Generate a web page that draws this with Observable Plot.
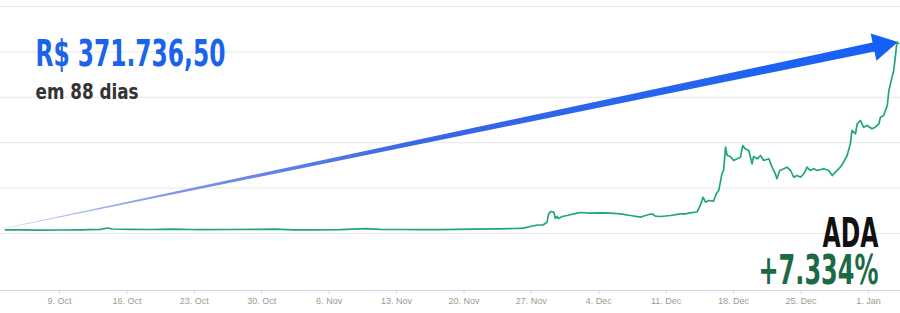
<!DOCTYPE html>
<html><head><meta charset="utf-8">
<script src="https://cdn.jsdelivr.net/npm/d3@7"></script>
<script src="https://cdn.jsdelivr.net/npm/@observablehq/plot@0.6"></script>
<style>
html,body{margin:0;padding:0;background:#fff;}
#chart{width:900px;height:313px;overflow:hidden;}
</style></head><body><div id="chart"></div>
<script>
const dates = [
"2017-10-03T09:00Z","2017-10-04T23:00Z","2017-10-07T01:00Z","2017-10-09T02:00Z","2017-10-11T04:00Z",
"2017-10-13T06:00Z","2017-10-14T00:00Z","2017-10-14T12:00Z","2017-10-16T09:00Z","2017-10-18T11:00Z",
"2017-10-20T20:00Z","2017-10-22T14:00Z","2017-10-23T15:00Z","2017-10-26T18:00Z","2017-10-29T21:00Z",
"2017-10-31T10:00Z","2017-11-02T07:00Z","2017-11-04T01:00Z","2017-11-07T04:00Z","2017-11-09T19:00Z",
"2017-11-11T08:00Z","2017-11-13T10:00Z","2017-11-15T12:00Z","2017-11-17T13:00Z","2017-11-21T00:00Z",
"2017-11-23T19:00Z","2017-11-25T08:00Z","2017-11-26T04:00Z","2017-11-26T22:00Z","2017-11-27T15:00Z",
"2017-11-28T06:00Z","2017-11-28T15:00Z","2017-11-28T19:00Z","2017-11-29T01:00Z","2017-11-29T08:00Z",
"2017-11-29T12:00Z","2017-11-29T16:00Z","2017-11-29T20:00Z","2017-11-30T05:00Z","2017-11-30T17:00Z",
"2017-12-01T10:00Z","2017-12-02T02:00Z","2017-12-03T03:00Z","2017-12-04T04:00Z","2017-12-05T05:00Z",
"2017-12-06T06:00Z","2017-12-07T07:00Z","2017-12-08T08:00Z","2017-12-08T20:00Z","2017-12-09T13:00Z",
"2017-12-09T21:00Z","2017-12-10T10:00Z","2017-12-11T11:00Z","2017-12-12T12:00Z","2017-12-13T00:00Z",
"2017-12-13T12:00Z","2017-12-14T05:00Z","2017-12-14T13:00Z","2017-12-14T20:00Z","2017-12-15T02:00Z",
"2017-12-15T10:00Z","2017-12-15T22:00Z","2017-12-16T05:00Z","2017-12-16T11:00Z","2017-12-16T19:00Z",
"2017-12-16T23:00Z","2017-12-17T04:00Z","2017-12-17T08:00Z","2017-12-17T16:00Z","2017-12-18T00:00Z",
"2017-12-18T09:00Z","2017-12-18T17:00Z","2017-12-18T23:00Z","2017-12-19T05:00Z","2017-12-19T14:00Z",
"2017-12-19T22:00Z","2017-12-20T02:00Z","2017-12-20T11:00Z","2017-12-20T19:00Z","2017-12-21T03:00Z",
"2017-12-21T16:00Z","2017-12-22T00:00Z","2017-12-22T08:00Z","2017-12-22T12:00Z","2017-12-22T19:00Z",
"2017-12-23T05:00Z","2017-12-23T13:00Z","2017-12-23T22:00Z","2017-12-24T06:00Z","2017-12-24T14:00Z",
"2017-12-24T23:00Z","2017-12-25T07:00Z","2017-12-25T15:00Z","2017-12-25T23:00Z","2017-12-26T08:00Z",
"2017-12-26T16:00Z","2017-12-27T09:00Z","2017-12-27T21:00Z","2017-12-28T06:00Z","2017-12-28T14:00Z",
"2017-12-29T02:00Z","2017-12-29T10:00Z","2017-12-29T19:00Z","2017-12-30T03:00Z","2017-12-30T07:00Z",
"2017-12-30T16:00Z","2017-12-30T20:00Z","2017-12-31T04:00Z","2017-12-31T12:00Z","2017-12-31T21:00Z",
"2018-01-01T09:00Z","2018-01-01T17:00Z","2018-01-02T02:00Z","2018-01-02T06:00Z","2018-01-02T14:00Z",
"2018-01-02T23:00Z","2018-01-03T03:00Z","2018-01-03T11:00Z","2018-01-03T15:00Z","2018-01-03T19:00Z",
"2018-01-03T23:00Z","2018-01-04T03:00Z"
];
const prices = [
0.0204,0.0204,0.0187,0.0193,0.0204,
0.0231,0.0303,0.0248,0.0231,0.0220,
0.0242,0.0220,0.0215,0.0220,0.0231,
0.0237,0.0198,0.0204,0.0215,0.0264,
0.0231,0.0220,0.0215,0.0215,0.0242,
0.0259,0.0275,0.0292,0.0385,0.0468,
0.0479,0.0622,0.1085,0.1212,0.1173,
0.0826,0.0936,0.0826,0.0936,0.0991,
0.1085,0.1156,0.1118,0.1140,0.1118,
0.1085,0.0991,0.0898,0.0991,0.1085,
0.0953,0.0936,0.0991,0.1085,0.1085,
0.1140,0.1184,0.1542,0.1999,0.1724,
0.1817,0.1779,0.2186,0.2368,0.3288,
0.3469,0.4753,0.4295,0.4240,0.4020,
0.4114,0.4202,0.4846,0.4664,0.4571,
0.3838,0.4240,0.4114,0.4295,0.4020,
0.4114,0.3651,0.3288,0.3012,0.3469,
0.3563,0.3651,0.3469,0.3100,0.3194,
0.3100,0.3288,0.3651,0.3469,0.3563,
0.3469,0.3563,0.3469,0.3194,0.3376,
0.3651,0.3927,0.4295,0.4940,0.5672,
0.5490,0.6041,0.6223,0.5854,0.5948,
0.5766,0.5854,0.6041,0.6405,0.6498,
0.7049,0.7875,0.8608,0.8976,0.9709,
1.0535,1.0463
];
const tickDates = ["2017-10-09","2017-10-16","2017-10-23","2017-10-30","2017-11-06","2017-11-13","2017-11-20","2017-11-27","2017-12-04","2017-12-11","2017-12-18","2017-12-25","2018-01-01"];
const xDomain = ["2017-10-02T21:00Z", "2018-01-04T08:00Z"];
const yDomain = [-0.3139, 1.25];
const gridValues = [0, 0.25, 0.5, 0.75, 1, 1.25];
const headline = "R$ 371.736,50";
const subline = "em 88 dias";
const coin = "ADA";
const change = "+7.334%";

const data = dates.map((d, i) => ({date: new Date(d), value: prices[i]}));
const ticks = tickDates.map(d => new Date(d + "T00:00Z"));

function arrowMark(index, scales) {
  const sx = scales.x, sy = scales.y;
  const first = data[0], last = data[data.length - 1];
  const x0 = sx(first.date), y0 = sy(first.value) - 1;
  const x1 = sx(last.date), y1 = sy(last.value) - 1;
  const dx = x1 - x0, dy = y1 - y0, L = Math.hypot(dx, dy);
  const ux = dx / L, uy = dy / L, nx = -uy, ny = ux;
  const headLen = 25, headHalf = 14, w0 = 0.3, w1 = 4.6;
  const bx = x1 - ux * headLen, by = y1 - uy * headLen;
  const pts = [
    [x0 + nx * w0, y0 + ny * w0],
    [bx + nx * w1, by + ny * w1],
    [bx + nx * headHalf, by + ny * headHalf],
    [x1, y1],
    [bx - nx * headHalf, by - ny * headHalf],
    [bx - nx * w1, by - ny * w1],
    [x0 - nx * w0, y0 - ny * w0]
  ];
  const ns = "http://www.w3.org/2000/svg";
  const g = document.createElementNS(ns, "g");
  const defs = document.createElementNS(ns, "defs");
  const grad = document.createElementNS(ns, "linearGradient");
  grad.setAttribute("id", "arrowGrad");
  grad.setAttribute("gradientUnits", "userSpaceOnUse");
  grad.setAttribute("x1", x0); grad.setAttribute("y1", y0);
  grad.setAttribute("x2", x1); grad.setAttribute("y2", y1);
  [[0, "#c8d0f4"], [0.2, "#7d95e6"], [0.45, "#3a68e6"], [1, "#1460f5"]].forEach(([o, c]) => {
    const s = document.createElementNS(ns, "stop");
    s.setAttribute("offset", o); s.setAttribute("stop-color", c);
    grad.appendChild(s);
  });
  defs.appendChild(grad);
  g.appendChild(defs);
  const poly = document.createElementNS(ns, "polygon");
  poly.setAttribute("points", pts.map(p => p.join(",")).join(" "));
  poly.setAttribute("fill", "url(#arrowGrad)");
  g.appendChild(poly);
  return g;
}

const bigFont = "'Liberation Sans Narrow', 'DejaVu Sans Condensed', 'Roboto', sans-serif";

const chart = Plot.plot({
  width: 900,
  height: 313,
  marginLeft: 0,
  marginRight: 0,
  marginTop: 6,
  marginBottom: 23,
  style: {background: "#fff", fontFamily: "'Liberation Sans', sans-serif"},
  x: {type: "utc", domain: xDomain.map(d => new Date(d))},
  y: {domain: yDomain, axis: null},
  marks: [
    Plot.gridY(gridValues, {stroke: "#e6e6e6", strokeOpacity: 1}),
    Plot.ruleY([yDomain[0]], {stroke: "#ccd6eb"}),
    Plot.axisX(ticks, {tickSize: 4, tickPadding: 3, stroke: "#ccd6eb", fill: "#999", fontSize: 9, tickFormat: d3.utcFormat("%-d. %b"), label: null}),
    arrowMark,
    Plot.line(data, {x: "date", y: "value", stroke: "#1fa67b", strokeWidth: 1.7}),
    Plot.text([headline], {text: d => d, frameAnchor: "top-left", dx: 35, dy: 59, lineAnchor: "bottom", textAnchor: "start", fontSize: 38, fontWeight: "bold", fill: "#1b63ea", fontFamily: bigFont}),
    Plot.text([subline], {text: d => d, frameAnchor: "top-left", dx: 35, dy: 92, lineAnchor: "bottom", textAnchor: "start", fontSize: 21, fontWeight: "bold", fill: "#333", fontFamily: bigFont}),
    Plot.text([coin], {text: d => d, frameAnchor: "top-right", dx: -22, dy: 240, lineAnchor: "bottom", textAnchor: "end", fontSize: 41, fontWeight: "bold", fill: "#111", fontFamily: bigFont}),
    Plot.text([change], {text: d => d, frameAnchor: "top-right", dx: -22, dy: 277, lineAnchor: "bottom", textAnchor: "end", fontSize: 41, fontWeight: "bold", fill: "#1c6a45", fontFamily: bigFont})
  ]
});
document.getElementById("chart").appendChild(chart);

// condense the big annotation texts horizontally (styling) so they match the reference's narrow face
const widths = {[headline]: 190, [subline]: 103, [coin]: 56, [change]: 120};
d3.select(chart).selectAll("text").each(function() {
  const t = this.textContent;
  if (widths[t]) {
    const w = this.getComputedTextLength();
    const k = widths[t] / w;
    const tr = this.getAttribute("transform") || "";
    this.setAttribute("transform", (tr + ` scale(${k.toFixed(4)},1)`).trim());
  }
});
</script>
</body></html>
